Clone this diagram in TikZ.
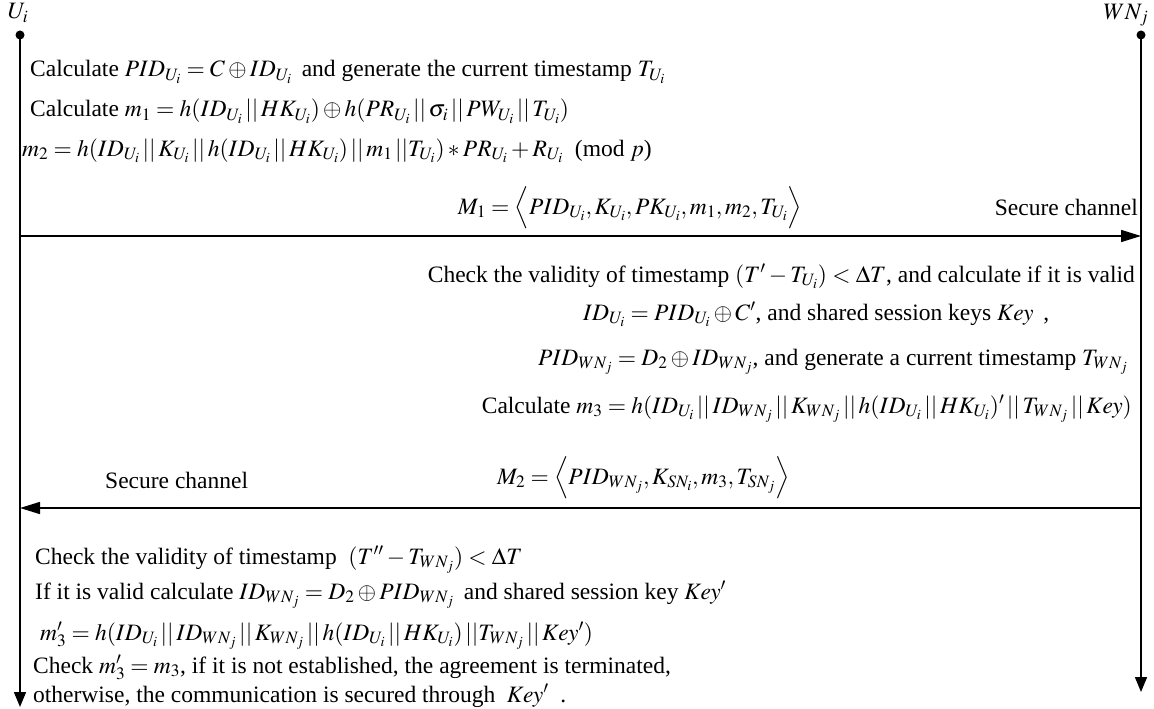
\documentclass[tikz,border=0pt]{standalone}
\usepackage{mathptmx}
\usepackage{fontspec}
\setmainfont{Liberation Serif}
\usetikzlibrary{arrows.meta}
\newcommand{\cc}{\,||\,}
\begin{document}
\begin{tikzpicture}[x=1pt,y=-1pt,
  txt/.style={inner sep=0pt,font=\fontsize{23.5}{27}\selectfont},
  life/.style={line width=1.6pt,-{Triangle[length=15pt,width=12pt]}},
  msg/.style={line width=1.6pt,-{Triangle[length=20pt,width=12pt]}}]
\useasboundingbox (0,0) rectangle (1154,709);
% lifelines
\coordinate (ua) at (20,35);
\coordinate (ub) at (20,707);
\coordinate (wa) at (1141,35);
\coordinate (wb) at (1141,692);
\fill (ua) circle (4.5);
\fill (wa) circle (4.5);
\node[txt,anchor=center] (ulab) at (18,13) {$U_i$};
\node[txt,anchor=center] (wlab) at (1126,15) {$WN_j$};
\draw[life] (ua) -- (ub);
\draw[life] (wa) -- (wb);
% message 1
\coordinate (m1s) at (20,236);
\coordinate (m1e) at (1141,236);
\draw[msg] (m1s) -- (m1e);
% message 2
\coordinate (m2s) at (1141,508);
\coordinate (m2e) at (20,508);
\draw[msg] (m2s) -- (m2e);
% user side text
\node[txt,anchor=base west] (l1) at (30,77) {Calculate $PID_{U_i}=C\oplus ID_{U_i}$\, and generate the current timestamp $T_{U_i}$};
\node[txt,anchor=base west] (l2) at (30,117) {Calculate $m_1=h(ID_{U_i}\cc HK_{U_i})\oplus h(PR_{U_i}\cc\sigma_i\cc PW_{U_i}\cc T_{U_i})$};
\node[txt,anchor=base west] (l3) at (22,156) {$m_2=h(ID_{U_i}\cc K_{U_i}\cc h(ID_{U_i}\cc HK_{U_i})\cc m_1\,||T_{U_i})*PR_{U_i}+R_{U_i}$\ \ (mod $p$)};
\node[txt,anchor=base] (M1) at (630,214) {$M_1=\Big\langle PID_{U_i},K_{U_i},PK_{U_i},m_1,m_2,T_{U_i}\Big\rangle$};
\node[txt,anchor=base east] (sc1) at (1138,215) {Secure channel};
% node side text
\node[txt,anchor=base east] (r1) at (1135,282) {Check the validity of timestamp $(T'-T_{U_i})<\Delta T$, and calculate if it is valid};
\node[txt,anchor=base west] (r2) at (583,320) {$ID_{U_i}=PID_{U_i}\oplus C'$, and shared session keys $Key$\ \,,};
\node[txt,anchor=base east] (r3) at (1128,365) {$PID_{WN_j}=D_2\oplus ID_{WN_j}$, and generate a current timestamp $T_{WN_j}$};
\node[txt,anchor=base east] (r4) at (1132,413) {Calculate $m_3=h(ID_{U_i}\cc ID_{WN_j}\cc K_{WN_j}\cc h(ID_{U_i}\cc HK_{U_i})'\cc T_{WN_j}\cc Key)$};
\node[txt,anchor=base west] (M2) at (497,484) {$M_2=\Big\langle PID_{WN_j},K_{SN_i},m_3,T_{SN_j}\Big\rangle$};
\node[txt,anchor=base west] (sc2) at (105,488) {Secure channel};
% user side final text
\node[txt,anchor=base west] (b1) at (35,564) {Check the validity of timestamp \ $(T''-T_{WN_j})<\Delta T$};
\node[txt,anchor=base west] (b2) at (35,599) {If it is valid calculate $ID_{WN_j}=D_2\oplus PID_{WN_j}$\, and shared session key $Key'$};
\node[txt,anchor=base west] (b3) at (40,640) {$m_3^{\prime}=h(ID_{U_i}\cc ID_{WN_j}\cc K_{WN_j}\cc h(ID_{U_i}\cc HK_{U_i})\,||T_{WN_j}\cc Key')$};
\node[txt,anchor=base west] (b4) at (33,673) {Check $m_3^{\prime}=m_3$, if it is not established, the agreement is terminated,};
\node[txt,anchor=base west] (b5) at (33,702) {otherwise, the communication is secured through \ $Key'$\ \ .};
\end{tikzpicture}
\end{document}
